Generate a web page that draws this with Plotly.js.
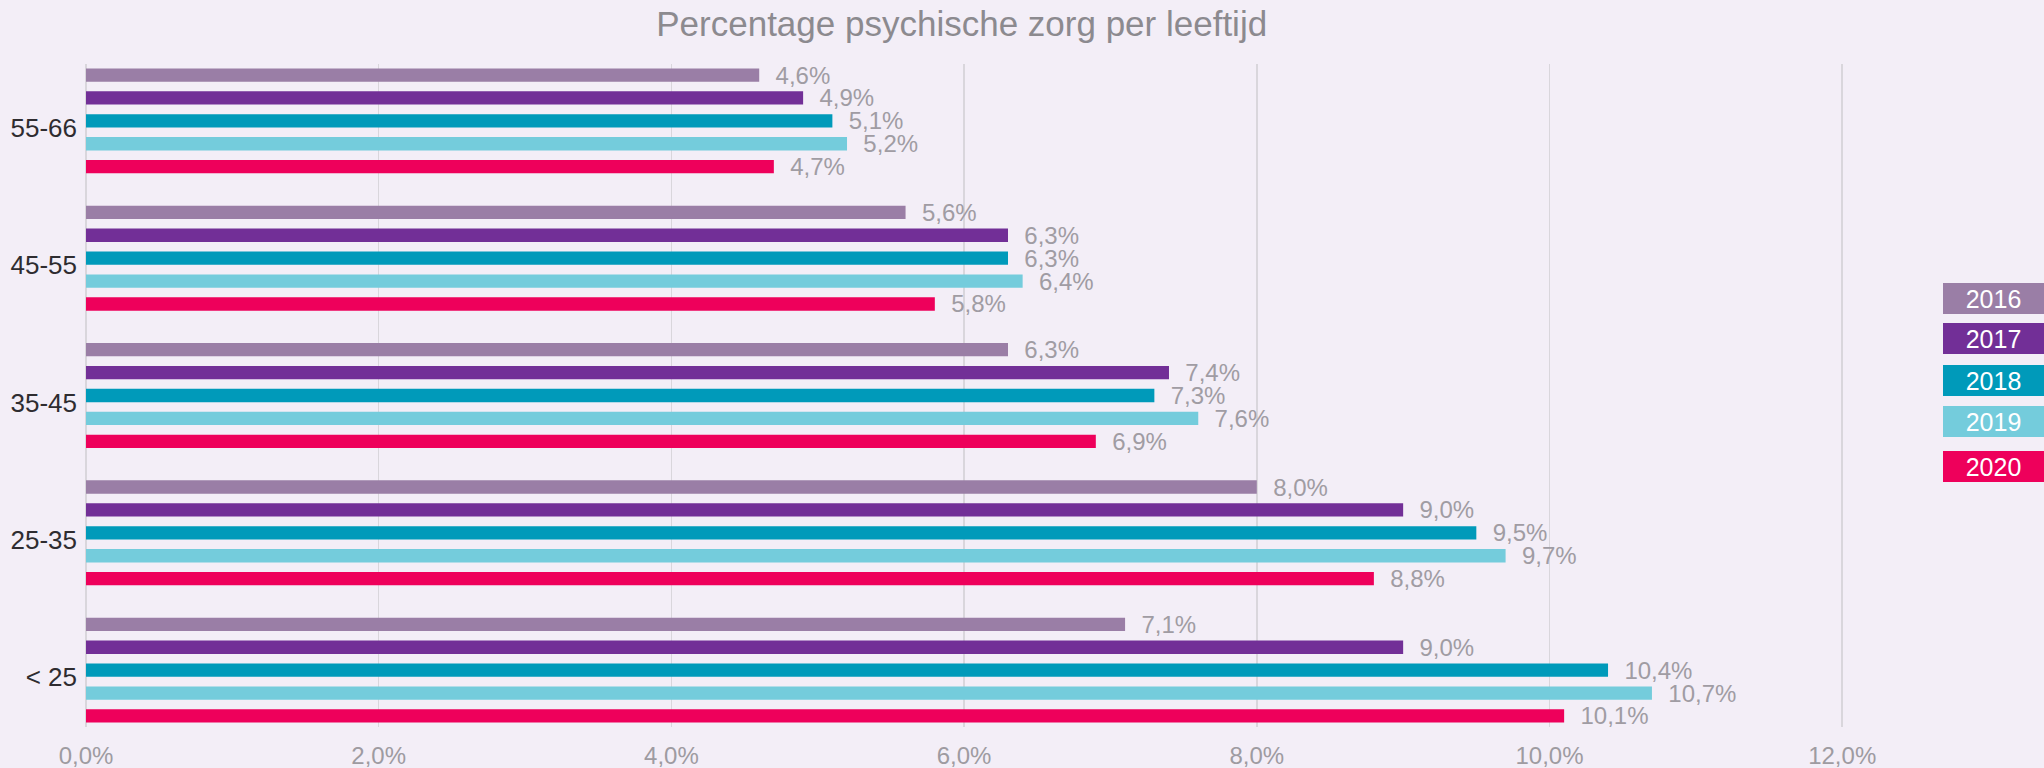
<!DOCTYPE html>
<html>
<head>
<meta charset="utf-8">
<script src="https://cdn.plot.ly/plotly-3.0.1.min.js"></script>
<style>
  html, body { margin: 0; padding: 0; background: #F3EEF7; }
  #chart { width: 2044px; height: 768px; }
</style>
</head>
<body>
<div id="chart"></div>
<script>
// Categories (top to bottom)
const ageGroups = ['55-66', '45-55', '35-45', '25-35', '< 25'];
const years = ['2016', '2017', '2018', '2019', '2020'];

// Percentages per year, in the order of ageGroups
const v2016 = [4.6, 5.6, 6.3, 8.0, 7.1];
const v2017 = [4.9, 6.3, 7.4, 9.0, 9.0];
const v2018 = [5.1, 6.3, 7.3, 9.5, 10.4];
const v2019 = [5.2, 6.4, 7.6, 9.7, 10.7];
const v2020 = [4.7, 5.8, 6.9, 8.8, 10.1];

const xTickVals = [0, 2, 4, 6, 8, 10, 12];
const xTickText = ['0,0%', '2,0%', '4,0%', '6,0%', '8,0%', '10,0%', '12,0%'];

const colors = ['#9A7EA6', '#722F97', '#009ABA', '#74CCDC', '#EE005B'];
const series = [v2016, v2017, v2018, v2019, v2020];

const FONT = 'Liberation Sans Narrow, Arial Narrow, sans-serif';
const fmt = v => '\u00a0\u00a0' + v.toFixed(1).replace('.', ',') + '%';

const traces = series.map((vals, i) => ({
  type: 'bar',
  orientation: 'h',
  name: years[i],
  x: vals,
  y: ageGroups,
  marker: { color: colors[i] },
  text: vals.map(fmt),
  textposition: 'outside',
  constraintext: 'none',
  cliponaxis: false,
  textfont: { family: FONT, size: 24, color: '#A09CA3' },
  hoverinfo: 'x+y+name'
}));

// plot area geometry (pixels)
const W = 2044, H = 768;
const L = 86, R = 1900, T = 64, B = 727;
const pxPerUnit = 146.35;

// custom box legend
const legendCenters = [298, 338.5, 380, 421, 466];
const legendX = 1993.5;
const annotations = years.map((yr, i) => ({
  text: yr,
  xref: 'paper', yref: 'paper',
  x: (legendX - L) / (R - L),
  y: (B - legendCenters[i]) / (B - T),
  xanchor: 'center', yanchor: 'middle',
  showarrow: false,
  width: 101, height: 31,
  bgcolor: colors[i],
  borderpad: 0, borderwidth: 0,
  font: { family: FONT, size: 25, color: '#FFFFFF' }
}));

const layout = {
  width: W, height: H,
  paper_bgcolor: '#F3EEF7',
  plot_bgcolor: '#F3EEF7',
  margin: { l: L, r: W - R, t: T, b: H - B, pad: 0 },
  barmode: 'group',
  bargap: 0.166,
  bargroupgap: 0.418,
  showlegend: false,
  title: {
    text: 'Percentage psychische zorg per leeftijd',
    font: { family: FONT, size: 35, color: '#8C8A8F' },
    xref: 'paper', x: (961.7 - L) / (R - L), xanchor: 'center',
    yref: 'container', y: 1 - 24 / H, yanchor: 'middle'
  },
  xaxis: {
    range: [0, (R - L) / pxPerUnit],
    tickvals: xTickVals,
    ticktext: xTickText,
    showgrid: true,
    gridcolor: '#D9D6DC',
    gridwidth: 1.5,
    zeroline: true,
    zerolinecolor: '#D9D6DC',
    zerolinewidth: 1.5,
    showline: false,
    ticks: '',
    ticklabelstandoff: 12,
    tickfont: { family: FONT, size: 24, color: '#9E9BA1' },
    fixedrange: true
  },
  yaxis: {
    type: 'category',
    categoryorder: 'array',
    categoryarray: ageGroups,
    range: [4.414, -0.414],
    showgrid: false,
    zeroline: false,
    showline: false,
    ticks: '',
    ticklabelstandoff: 8,
    ticklabelshift: -7,
    tickfont: { family: FONT, size: 26, color: '#2E2C30' },
    fixedrange: true
  },
  annotations: annotations
};

Plotly.newPlot('chart', traces, layout, { displayModeBar: false, staticPlot: true });
</script>
</body>
</html>
